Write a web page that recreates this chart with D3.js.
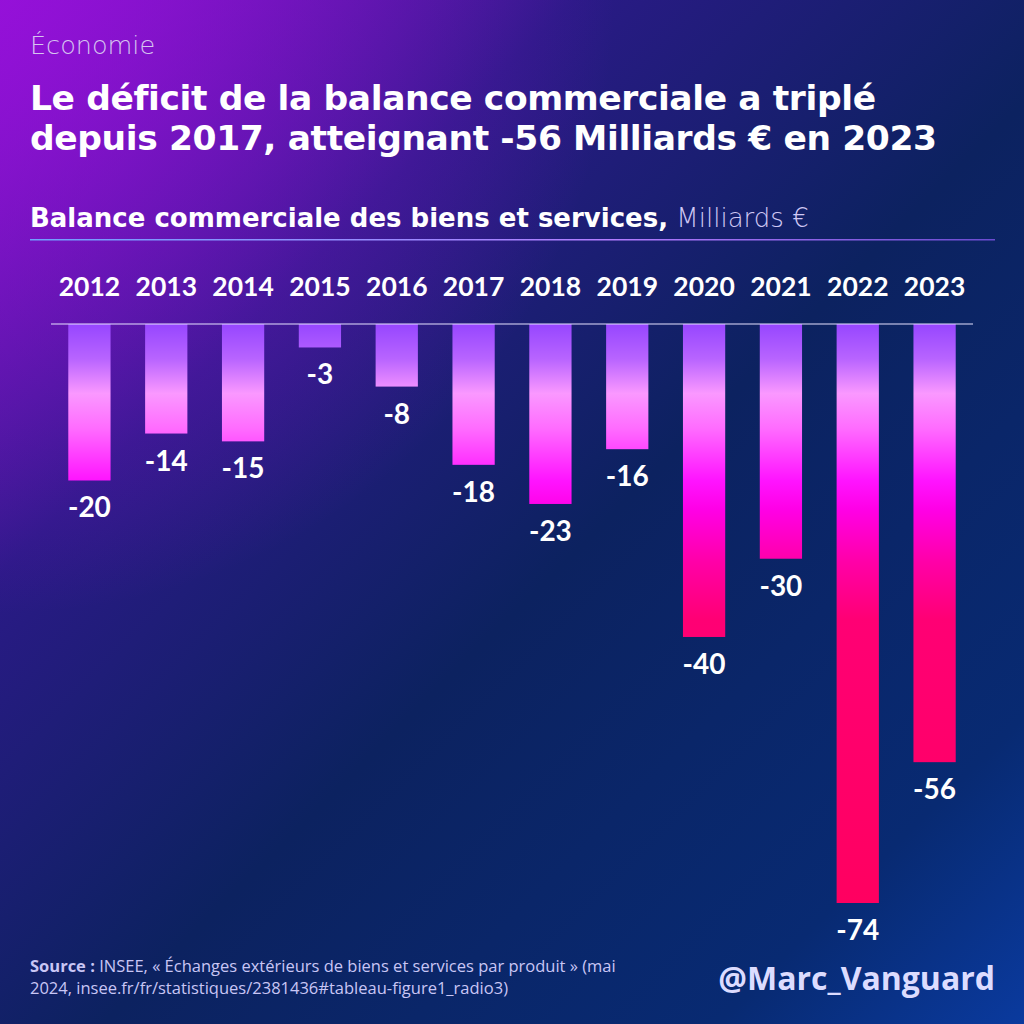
<!DOCTYPE html>
<html><head><meta charset="utf-8">
<script src="https://cdn.jsdelivr.net/npm/d3@7"></script>
<style>html,body{margin:0;padding:0;background:#0b1f5c}svg{display:block}</style>
</head><body><div id="chart"></div>
<script>
const years = ["2012","2013","2014","2015","2016","2017","2018","2019","2020","2021","2022","2023"];
const values = [-20,-14,-15,-3,-8,-18,-23,-16,-40,-30,-74,-56];
const kicker = "Économie";
const titleLines = ["Le déficit de la balance commerciale a triplé","depuis 2017, atteignant -56 Milliards € en 2023"];
const subtitleBold = "Balance commerciale des biens et services";
const subtitleUnit = "Milliards €";
const sourceLines = ["INSEE, « Échanges extérieurs de biens et services par produit » (mai","2024, insee.fr/fr/statistiques/2381436#tableau-figure1_radio3)"];
const handle = "@Marc_Vanguard";

const W=1024,H=1024;
const headFont="'DejaVu Sans', sans-serif";
const numFont="Lato, sans-serif";
const footFont="'Open Sans', sans-serif";
const svg=d3.select("#chart").append("svg").attr("width",W).attr("height",H);
const defs=svg.append("defs");
const bg=defs.append("linearGradient").attr("id","bg").attr("x1","0").attr("y1","0").attr("x2","1").attr("y2","1");
bg.append("stop").attr("offset","0").attr("stop-color","#8a12cf");
bg.append("stop").attr("offset","0.28").attr("stop-color","#2a1a86");
bg.append("stop").attr("offset","0.55").attr("stop-color","#0c2260");
bg.append("stop").attr("offset","0.85").attr("stop-color","#082a72");
bg.append("stop").attr("offset","1").attr("stop-color","#0a3a9e");
svg.append("rect").attr("width",W).attr("height",H).attr("fill","url(#bg)");
const rg=defs.append("radialGradient").attr("id","glow").attr("cx","0").attr("cy","0").attr("r","0.6");
rg.append("stop").attr("offset","0").attr("stop-color","#9a10dd").attr("stop-opacity",0.7);
rg.append("stop").attr("offset","1").attr("stop-color","#9a10dd").attr("stop-opacity",0);
svg.append("rect").attr("width",W).attr("height",H).attr("fill","url(#glow)");

// Header
svg.append("text").attr("x",30).attr("y",54).attr("font-family",headFont).attr("font-weight",200)
  .attr("font-size",25.5).attr("fill","#d6c4f0").text(kicker);
svg.append("g").selectAll("text").data(titleLines).join("text")
  .attr("x",30).attr("y",(d,i)=>110+i*40).attr("font-family",headFont).attr("font-weight",700)
  .attr("font-size",34.5).attr("letter-spacing",-0.4).attr("fill","#ffffff").text(d=>d);
const st=svg.append("text").attr("x",30).attr("y",227).attr("font-family",headFont).attr("font-size",26).attr("fill","#ffffff");
st.append("tspan").attr("font-weight",700).text(subtitleBold+",");
st.append("tspan").attr("font-weight",200).attr("fill","#d0c8f4").text(" "+subtitleUnit);
const lg=defs.append("linearGradient").attr("id","rule");
lg.append("stop").attr("offset","0").attr("stop-color","#6fa0ff");
lg.append("stop").attr("offset","0.6").attr("stop-color","#b27cff");
lg.append("stop").attr("offset","1").attr("stop-color","#6a4bd0");
svg.append("rect").attr("x",30).attr("y",239).attr("width",965).attr("height",1.5).attr("fill","url(#rule)");

// Scales
const x=d3.scaleBand().domain(years).range([51,973]).paddingInner(0.45).paddingOuter(0.225);
const y=d3.scaleLinear().domain([0,-74]).range([324,903]);

const bgr=defs.append("linearGradient").attr("id","barg").attr("gradientUnits","userSpaceOnUse")
  .attr("x1",0).attr("x2",0).attr("y1",y(0)).attr("y2",y(-74));
[[0,"#9646ff"],[0.06,"#b864ff"],[0.12,"#fa98ff"],[0.18,"#ff6cff"],[0.27,"#ff14ff"],[0.32,"#ff00e6"],[0.41,"#ff00a8"],[0.51,"#ff0074"],[1,"#ff0060"]]
 .forEach(s=>bgr.append("stop").attr("offset",s[0]).attr("stop-color",s[1]));

// Year labels (top axis)
const xAxis=d3.axisTop(x).tickSize(0).tickPadding(0);
const ax=svg.append("g").attr("transform","translate(0,296)").call(xAxis);
ax.select(".domain").remove();
ax.selectAll("text").attr("font-family",numFont).attr("font-weight",700).attr("font-size",26.5).attr("fill","#ffffff");

// Bars
svg.append("g").selectAll("rect").data(values).join("rect")
  .attr("x",(d,i)=>x(years[i])).attr("width",x.bandwidth())
  .attr("y",y(0)).attr("height",d=>y(d)-y(0)).attr("fill","url(#barg)");
// Baseline
svg.append("line").attr("x1",51).attr("x2",973).attr("y1",y(0)).attr("y2",y(0))
  .attr("stroke","#e6e2ff").attr("stroke-width",1.2);
// Value labels
svg.append("g").selectAll("text").data(values).join("text")
  .attr("x",(d,i)=>x(years[i])+x.bandwidth()/2).attr("y",d=>y(d)+37)
  .attr("text-anchor","middle").attr("font-family",numFont).attr("font-weight",700)
  .attr("font-size",28).attr("fill","#ffffff").text(d=>d);

// Footer
const src=svg.append("g").attr("font-family",footFont).attr("font-size",16.5).attr("fill","#c9c6f5");
sourceLines.forEach((l,i)=>{
  const t=src.append("text").attr("x",30).attr("y",972+i*22);
  if(i===0){t.append("tspan").attr("font-weight",700).text("Source : ");}
  t.append("tspan").attr("font-weight",400).text(l);
});
svg.append("text").attr("x",995).attr("y",990).attr("text-anchor","end").attr("font-family",footFont)
  .attr("font-weight",700).attr("font-size",32).attr("fill","#dcdcff").text(handle);
</script></body></html>
